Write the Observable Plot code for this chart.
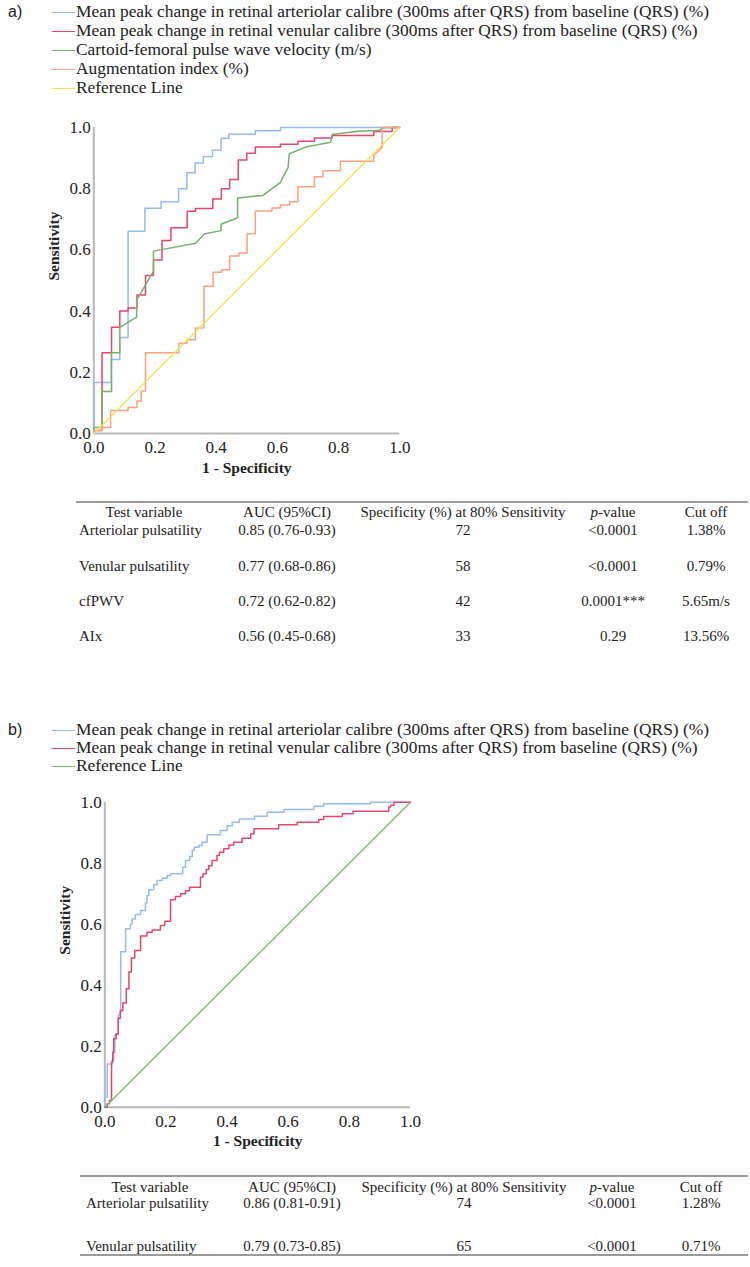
<!DOCTYPE html>
<html>
<head>
<meta charset="utf-8">
<script src="https://cdn.jsdelivr.net/npm/d3@7"></script>
<script src="https://cdn.jsdelivr.net/npm/@observablehq/plot@0.6"></script>
<style>
  html, body { margin: 0; padding: 0; background: #fff; }
  #page { position: relative; width: 750px; height: 1267px; overflow: hidden; background: #fff; }
  .t { position: absolute; white-space: nowrap; font-family: "Liberation Serif", "Times New Roman", serif; color: #222; line-height: 1; }
  .sw { position: absolute; height: 0; border-top: 1.6px solid; }
  .hl { position: absolute; height: 0; border-top: 2px solid #9a9a9a; }
  .chart { position: absolute; left: 0; }
</style>
</head>
<body>
<div id="page"></div>
<script>
// ---------------- DATA ----------------
const tickValues = [0, 0.2, 0.4, 0.6, 0.8, 1.0];

const legendA = [
  "Mean peak change in retinal arteriolar calibre (300ms after QRS) from baseline (QRS) (%)",
  "Mean peak change in retinal venular calibre (300ms after QRS) from baseline (QRS) (%)",
  "Cartoid-femoral pulse wave velocity (m/s)",
  "Augmentation index (%)",
  "Reference Line"
];
const legendB = [
  "Mean peak change in retinal arteriolar calibre (300ms after QRS) from baseline (QRS) (%)",
  "Mean peak change in retinal venular calibre (300ms after QRS) from baseline (QRS) (%)",
  "Reference Line"
];
const colorsA = ["#93bcf3", "#e8456a", "#74b46a", "#ffa07c", "#f1e25a"];
const colorsB = ["#93bcf3", "#e8456a", "#7abb70"];

// Panel a: ROC points (step curves: [1 - specificity, sensitivity])
const aArteriolar = [[0,0],[0,0.167],[0.057,0.242],[0.085,0.314],[0.112,0.661],[0.167,0.736],[0.220,0.757],[0.277,0.800],[0.304,0.852],[0.331,0.884],[0.358,0.905],[0.388,0.926],[0.416,0.965],[0.441,0.978],[0.528,0.989],[0.610,1.0],[1.0,1.0]];
const aVenular = [[0,0],[0,0.01],[0.027,0.264],[0.058,0.347],[0.085,0.400],[0.112,0.410],[0.141,0.453],[0.169,0.516],[0.195,0.567],[0.223,0.631],[0.252,0.672],[0.305,0.726],[0.332,0.735],[0.389,0.766],[0.417,0.800],[0.444,0.830],[0.472,0.894],[0.500,0.916],[0.528,0.936],[0.610,0.945],[0.667,0.955],[0.721,0.966],[0.779,0.974],[0.915,0.987],[0.975,1.0],[1.0,1.0]];
// vertices (these curves have sloped segments)
const aPWV = [[0,0],[0,0.02],[0.027,0.02],[0.027,0.137],[0.058,0.137],[0.058,0.264],[0.085,0.264],[0.085,0.347],[0.112,0.364],[0.140,0.380],[0.140,0.435],[0.169,0.486],[0.195,0.530],[0.195,0.596],[0.333,0.622],[0.361,0.652],[0.416,0.663],[0.416,0.684],[0.470,0.705],[0.470,0.770],[0.553,0.778],[0.609,0.820],[0.635,0.870],[0.639,0.914],[0.692,0.936],[0.774,0.952],[0.779,0.977],[0.861,0.988],[0.931,0.990],[0.948,1.0],[1.0,1.0]];
const aAIx = [[0,0],[0,0.01],[0.027,0.01],[0.027,0.02],[0.055,0.02],[0.055,0.075],[0.112,0.075],[0.112,0.085],[0.141,0.085],[0.141,0.106],[0.155,0.106],[0.155,0.139],[0.169,0.139],[0.169,0.264],[0.278,0.264],[0.278,0.295],[0.305,0.295],[0.305,0.306],[0.332,0.306],[0.332,0.345],[0.360,0.345],[0.360,0.481],[0.390,0.481],[0.390,0.527],[0.417,0.527],[0.417,0.535],[0.444,0.535],[0.444,0.580],[0.474,0.580],[0.474,0.590],[0.501,0.590],[0.501,0.653],[0.528,0.653],[0.528,0.727],[0.582,0.727],[0.582,0.737],[0.610,0.737],[0.610,0.747],[0.640,0.747],[0.640,0.757],[0.667,0.757],[0.667,0.806],[0.721,0.806],[0.721,0.839],[0.749,0.839],[0.749,0.859],[0.806,0.859],[0.806,0.890],[0.915,0.890],[0.915,0.910],[0.942,0.934],[0.942,1.0],[1.0,1.0]];
const aReference = [[0,0],[1,1]];

// Panel b
const bArteriolar = [[0,0],[0,0.033],[0.008,0.142],[0.024,0.153],[0.029,0.180],[0.033,0.237],[0.040,0.240],[0.044,0.303],[0.049,0.310],[0.052,0.510],[0.068,0.585],[0.084,0.600],[0.089,0.617],[0.100,0.632],[0.117,0.645],[0.133,0.670],[0.138,0.694],[0.144,0.713],[0.160,0.729],[0.171,0.743],[0.188,0.751],[0.204,0.760],[0.215,0.765],[0.255,0.787],[0.264,0.809],[0.278,0.822],[0.286,0.842],[0.293,0.852],[0.308,0.858],[0.318,0.869],[0.335,0.893],[0.378,0.907],[0.400,0.923],[0.417,0.934],[0.440,0.945],[0.490,0.954],[0.531,0.967],[0.586,0.976],[0.684,0.987],[0.716,0.995],[0.869,1.0],[1.0,1.0]];
const bVenular = [[0,0],[0.008,0.011],[0.015,0.022],[0.022,0.148],[0.026,0.180],[0.029,0.224],[0.037,0.240],[0.044,0.292],[0.051,0.317],[0.059,0.342],[0.070,0.388],[0.079,0.443],[0.087,0.489],[0.098,0.514],[0.117,0.561],[0.138,0.574],[0.155,0.581],[0.182,0.596],[0.196,0.610],[0.215,0.680],[0.231,0.691],[0.248,0.700],[0.264,0.710],[0.277,0.721],[0.313,0.754],[0.321,0.765],[0.332,0.779],[0.340,0.792],[0.351,0.809],[0.367,0.825],[0.375,0.836],[0.389,0.847],[0.406,0.860],[0.422,0.869],[0.449,0.882],[0.477,0.896],[0.488,0.913],[0.569,0.926],[0.629,0.934],[0.700,0.943],[0.716,0.953],[0.777,0.962],[0.812,0.970],[0.929,0.984],[0.935,0.990],[0.946,1.0],[1.0,1.0]];
const bReference = [[0,0],[1,1]];

// Tables
const tableHeader = ["Test variable", "AUC (95%CI)", "Specificity (%) at 80% Sensitivity", "<i>p</i>-value", "Cut off"];
const tableAVariables = ["Arteriolar pulsatility", "Venular pulsatility", "cfPWV", "AIx"];
const tableAAUC = ["0.85 (0.76-0.93)", "0.77 (0.68-0.86)", "0.72 (0.62-0.82)", "0.56 (0.45-0.68)"];
const tableASpec = ["72", "58", "42", "33"];
const tableAP = ["<0.0001", "<0.0001", "0.0001***", "0.29"];
const tableACut = ["1.38%", "0.79%", "5.65m/s", "13.56%"];
const tableBVariables = ["Arteriolar pulsatility", "Venular pulsatility"];
const tableBAUC = ["0.86 (0.81-0.91)", "0.79 (0.73-0.85)"];
const tableBSpec = ["74", "65"];
const tableBP = ["<0.0001", "<0.0001"];
const tableBCut = ["1.28%", "0.71%"];

// ---------------- LAYOUT HELPERS ----------------
const page = document.getElementById("page");
function txt(s, x, y, o = {}) {
  const d = document.createElement("div");
  d.className = "t";
  if (o.html) d.innerHTML = s; else d.textContent = s;
  d.style.left = x + "px";
  d.style.top = y + "px";
  d.style.fontSize = (o.size || 15) + "px";
  if (o.family) d.style.fontFamily = o.family;
  if (o.weight) d.style.fontWeight = o.weight;
  const ax = o.anchor === "middle" ? "-50%" : o.anchor === "end" ? "-100%" : "0";
  d.style.transform = `translate(${ax}, -50%)`;
  page.appendChild(d);
  return d;
}
function hline(x1, x2, y, w = 2) {
  const d = document.createElement("div");
  d.className = "hl";
  d.style.left = x1 + "px"; d.style.width = (x2 - x1) + "px"; d.style.top = (y - w / 2) + "px";
  d.style.borderTopWidth = w + "px";
  page.appendChild(d);
}
function legend(tag, labels, colors, y0, dy) {
  txt(tag, 8, y0, {family: '"Liberation Sans", Arial, sans-serif', size: 16});
  labels.forEach((s, i) => {
    const y = y0 + i * dy;
    const sw = document.createElement("div");
    sw.className = "sw";
    sw.style.left = "52px"; sw.style.width = "23px"; sw.style.top = (y) + "px";
    sw.style.borderTopColor = colors[i];
    page.appendChild(sw);
    txt(s, 76, y, {size: 17.4});
  });
}
function table(rowsY, headerY, cols, vars, auc, spec, p, cut) {
  txt(tableHeader[0], cols.h0, headerY, {anchor: "middle"});
  txt(tableHeader[1], cols.auc, headerY, {anchor: "middle"});
  txt(tableHeader[2], cols.spec, headerY, {anchor: "middle"});
  txt(tableHeader[3], cols.p, headerY, {anchor: "middle", html: true});
  txt(tableHeader[4], cols.cut, headerY, {anchor: "middle"});
  vars.forEach((v, i) => {
    const y = rowsY[i];
    txt(v, cols.left, y);
    txt(auc[i], cols.auc, y, {anchor: "middle"});
    txt(spec[i], cols.spec, y, {anchor: "middle"});
    txt(p[i], cols.p, y, {anchor: "middle"});
    txt(cut[i], cols.cut, y, {anchor: "middle"});
  });
}
function roc({top, width, height, mt, ml, mr, mb, padX, series, ref, refColor}) {
  const X = d => d[0], Y = d => d[1];
  const marks = [
    Plot.ruleY([0], {stroke: "#b9b9b9", strokeWidth: 2}),
    Plot.ruleX([0], {stroke: "#b9b9b9", strokeWidth: 2}),
    ...series.map(s => Plot.line(s.data, {x: X, y: Y, stroke: s.color, strokeWidth: 1.5, curve: s.curve})),
    Plot.line(ref, {x: X, y: Y, stroke: refColor, strokeWidth: 1.4}),
    Plot.text(["1 - Specificity"], {text: d => d, frameAnchor: "bottom", dy: 39, fontWeight: "bold", fontSize: 15.5, fill: "#222"}),
    Plot.text(["Sensitivity"], {text: d => d, frameAnchor: "left", dx: -40, rotate: -90, fontWeight: "bold", fontSize: 15.5, fill: "#222"})
  ];
  const svg = Plot.plot({
    width, height, marginTop: mt, marginLeft: ml, marginRight: mr, marginBottom: mb,
    x: {domain: [0, 1], ticks: tickValues, tickFormat: d3.format(".1f"), tickSize: 0, tickPadding: padX, label: null},
    y: {domain: [0, 1], ticks: tickValues, tickFormat: d3.format(".1f"), tickSize: 0, tickPadding: 3, label: null},
    style: {fontFamily: '"Liberation Serif", "Times New Roman", serif', fontSize: "17px", color: "#222", background: "transparent", overflow: "visible"},
    marks
  });
  svg.classList.add("chart");
  svg.style.top = top + "px";
  page.appendChild(svg);
}

// ---------------- PANEL A ----------------
legend("a)", legendA, colorsA, 12, 19);
roc({
  top: 100, width: 430, height: 393, mt: 27, ml: 93.3, mr: 30.7, mb: 60, padX: 7,
  series: [
    {data: aArteriolar, color: colorsA[0], curve: "step-after"},
    {data: aVenular, color: colorsA[1], curve: "step-after"},
    {data: aPWV, color: colorsA[2], curve: "linear"},
    {data: aAIx, color: colorsA[3], curve: "linear"}
  ],
  ref: aReference, refColor: colorsA[4]
});
hline(76, 748, 502, 2);
table([530, 566, 601, 636], 512,
  {left: 79, h0: 144, auc: 287, spec: 463, p: 613, cut: 706},
  tableAVariables, tableAAUC, tableASpec, tableAP, tableACut);

// ---------------- PANEL B ----------------
legend("b)", legendB, colorsB, 730, 18);
roc({
  top: 780, width: 440, height: 386.7, mt: 21.7, ml: 104.3, mr: 30, mb: 60, padX: 8,
  series: [
    {data: bArteriolar, color: colorsB[0], curve: "step-after"},
    {data: bVenular, color: colorsB[1], curve: "step-after"}
  ],
  ref: bReference, refColor: colorsB[2]
});
hline(80, 748, 1176, 2.5);
table([1203, 1246], 1187,
  {left: 86, h0: 150, auc: 292, spec: 464, p: 612, cut: 701},
  tableBVariables, tableBAUC, tableBSpec, tableBP, tableBCut);
hline(80, 748, 1255, 2.5);
</script>
</body>
</html>
